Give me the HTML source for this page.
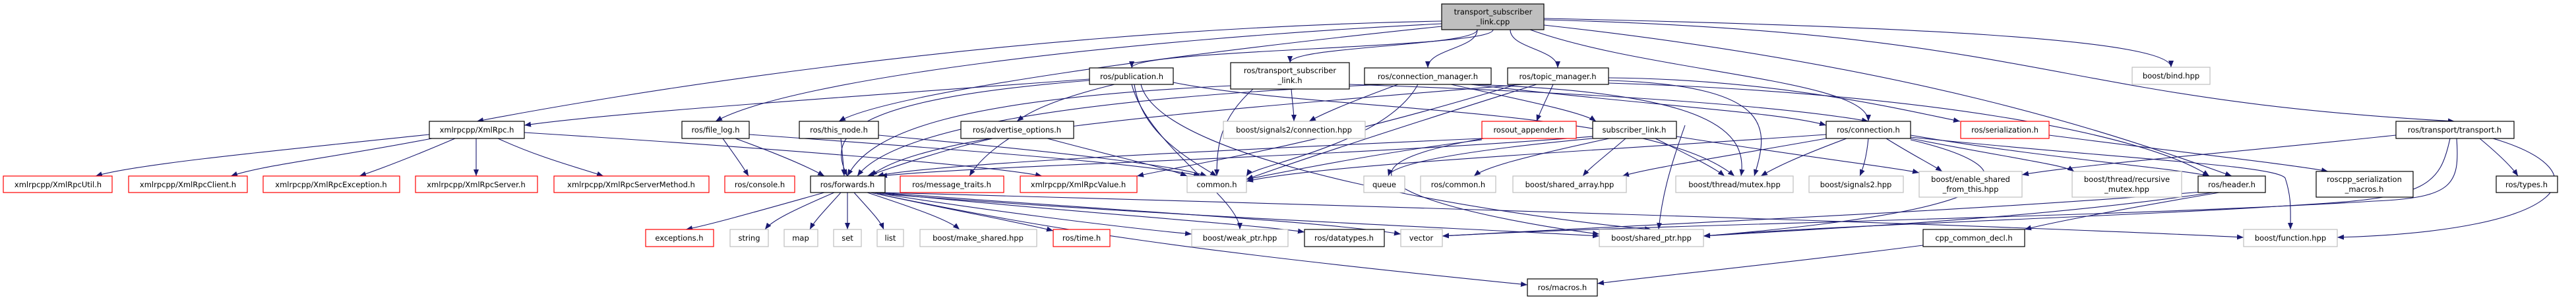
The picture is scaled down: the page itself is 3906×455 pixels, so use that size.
<!DOCTYPE html>
<html><head><meta charset="utf-8"><style>
html,body{margin:0;padding:0;background:#fff;}
svg{display:block;}
text{font-family:"DejaVu Sans","Liberation Sans",sans-serif;font-size:11.5px;fill:#000;text-anchor:middle;}
.b{fill:#fff;stroke:#000;stroke-width:1.2;}
.g{fill:#fff;stroke:#bfbfbf;stroke-width:1.2;}
.r{fill:#fff;stroke:#ff0000;stroke-width:1.2;}
.m{fill:#bfbfbf;stroke:#000;stroke-width:1.2;}
path.e{fill:none;stroke:#191970;stroke-width:1.1;marker-end:url(#a);}
</style></head><body>
<svg width="3906" height="455" viewBox="0 0 3906 455" xmlns="http://www.w3.org/2000/svg">
<defs><marker id="a" markerUnits="userSpaceOnUse" markerWidth="11" markerHeight="8" refX="10" refY="4" orient="auto"><path d="M0,0 L10,4 L0,8 z" fill="#191970"/></marker></defs>
<g>
<!-- main -->
<path class="e" d="M2264,45 C2264,74 1716,74 1716,103"/>
<path class="e" d="M2240,45 C2240,70 1956,70 1956,95"/>
<path class="e" d="M2240,45 C2240,74 2165,74 2165,103"/>
<path class="e" d="M2290,45 C2290,74 2362,74 2362,103"/>
<path class="e" d="M2320,45 C2500,110 2833,120 2833,184"/>
<path class="e" d="M2341,28 C2900,40 3292,60 3292,102"/>
<path class="e" d="M2341,30 C3100,50 3100,150 3722,184"/>
<path class="e" d="M2186,32 C1500,45 900,150 723,184"/>
<path class="e" d="M2186,36 C1700,60 1200,120 1085,184"/>
<path class="e" d="M2186,40 C1800,80 1350,140 1272,184"/>
<path class="e" d="M2341,38 C2900,100 3200,200 3384,267"/>
<!-- publication -->
<path class="e" d="M1652,120 C1100,160 900,175 795,190"/>
<path class="e" d="M1690,128 C1600,150 1560,170 1542,184"/>
<path class="e" d="M1652,122 C1300,150 1250,200 1285,267"/>
<path class="e" d="M1720,128 C1730,200 1800,240 1845,267"/>
<path class="e" d="M1779,125 C2000,170 2500,160 2630,267"/>
<path class="e" d="M1730,128 C1760,250 2300,330 2504,348"/>
<path class="e" d="M1716,128 C1740,220 1880,300 1880,348"/>
<!-- tsl -->
<path class="e" d="M1958,135 C1960,160 1962,170 1962,184"/>
<path class="e" d="M1900,135 C1850,180 1845,220 1845,267"/>
<path class="e" d="M1867,130 C1450,150 1320,200 1285,267"/>
<path class="e" d="M2046,128 C2400,140 2700,160 2833,184"/>
<!-- conn_mgr -->
<path class="e" d="M2120,128 C2060,150 2010,170 1985,184"/>
<path class="e" d="M2100,128 C1600,150 1350,200 1300,267"/>
<path class="e" d="M2150,128 C2100,220 1900,250 1890,267"/>
<path class="e" d="M2200,128 C2300,150 2400,170 2420,184"/>
<path class="e" d="M2230,128 C2500,160 2700,170 2769,190"/>
<path class="e" d="M2230,128 C2600,140 2650,200 2640,267"/>
<!-- topic_mgr -->
<path class="e" d="M2355,128 C2345,150 2335,170 2330,184"/>
<path class="e" d="M2310,128 C1800,170 1400,200 1320,267"/>
<path class="e" d="M2330,128 C2100,200 1950,250 1890,272"/>
<path class="e" d="M2439,118 C2700,120 2900,170 2972,184"/>
<path class="e" d="M2439,122 C2700,130 2680,200 2660,267"/>
<path class="e" d="M2300,128 C2000,220 1800,250 1724,267"/>
<path class="e" d="M2439,126 C2900,140 3250,200 3350,267"/>
<!-- XmlRpc.h -->
<path class="e" d="M651,204 C400,230 200,250 145,267"/>
<path class="e" d="M655,210 C500,240 400,250 350,267"/>
<path class="e" d="M690,210 C620,240 580,255 545,267"/>
<path class="e" d="M722,210 C722,240 722,250 722,267"/>
<path class="e" d="M755,210 C820,240 880,255 915,267"/>
<path class="e" d="M795,201 C1100,220 1500,250 1580,267"/>
<!-- file_log -->
<path class="e" d="M1096,210 C1110,230 1125,250 1135,267"/>
<path class="e" d="M1115,210 C1170,230 1220,250 1250,267"/>
<path class="e" d="M1136,204 C1500,230 1750,250 1820,267"/>
<!-- this_node -->
<path class="e" d="M1275,210 C1277,230 1279,250 1280,267"/>
<path class="e" d="M1332,205 C1600,230 1780,250 1830,267"/>
<!-- advertise -->
<path class="e" d="M1505,210 C1420,230 1350,255 1315,267"/>
<path class="e" d="M1530,210 C1500,230 1480,250 1470,267"/>
<path class="e" d="M1588,210 C1700,240 1770,255 1800,267"/>
<!-- rosout -->
<path class="e" d="M2247,210 C1800,230 1400,250 1330,267"/>
<path class="e" d="M2247,212 C2100,230 1950,260 1890,272"/>
<path class="e" d="M2250,210 C1900,270 2300,340 2425,355"/>
<!-- sublink -->
<path class="e" d="M2415,210 C2200,230 2110,250 2105,267"/>
<path class="e" d="M2440,210 C2300,240 2250,255 2235,267"/>
<path class="e" d="M2465,210 C2430,240 2410,255 2400,267"/>
<path class="e" d="M2510,210 C2570,240 2600,255 2615,267"/>
<path class="e" d="M2542,207 C2750,240 2880,255 2910,262"/>
<path class="e" d="M2415,207 C2000,240 1500,250 1335,267"/>
<path class="e" d="M2555,190 C2530,260 2520,300 2515,348"/>
<!-- connection -->
<path class="e" d="M2769,204 C2400,230 2000,250 1890,275"/>
<path class="e" d="M2769,210 C2600,240 2500,255 2460,267"/>
<path class="e" d="M2800,210 C2720,240 2690,255 2670,267"/>
<path class="e" d="M2833,210 C2830,240 2825,255 2820,267"/>
<path class="e" d="M2860,210 C2900,235 2930,250 2945,260"/>
<path class="e" d="M2897,210 C3050,240 3130,250 3145,260"/>
<path class="e" d="M2897,205 C3100,240 3300,255 3350,267"/>
<path class="e" d="M2897,208 C3200,240 3450,250 3465,270 C3475,300 3473,320 3473,348"/>
<path class="e" d="M2897,212 C3100,260 3050,320 2583,358"/>
<!-- serialization -->
<path class="e" d="M3107,205 C3300,230 3480,250 3530,260"/>
<!-- transport -->
<path class="e" d="M3633,205 C3400,230 3150,250 3066,265"/>
<path class="e" d="M3760,210 C3790,235 3810,255 3818,267"/>
<path class="e" d="M3780,210 C3950,260 3900,350 3544,360"/>
<path class="e" d="M3715,210 C3700,280 3680,300 3500,310 C3200,330 2800,340 2583,358"/>
<path class="e" d="M3725,210 C3730,280 3720,300 3600,305 C3200,330 2500,340 2187,358"/>
<!-- header -->
<path class="e" d="M3365,292 C3200,320 3100,340 3070,348"/>
<path class="e" d="M3355,292 C3100,330 2800,345 2583,358"/>
<path class="e" d="M3350,290 C3000,320 2500,340 2187,358"/>
<!-- forwards -->
<path class="e" d="M1250,292 C1150,320 1080,340 1040,348"/>
<path class="e" d="M1265,292 C1200,320 1170,335 1160,348"/>
<path class="e" d="M1275,292 C1250,320 1235,335 1228,348"/>
<path class="e" d="M1285,292 C1285,320 1285,335 1285,348"/>
<path class="e" d="M1295,292 C1320,320 1335,335 1340,348"/>
<path class="e" d="M1315,292 C1400,320 1440,335 1455,348"/>
<path class="e" d="M1320,292 C1450,320 1560,340 1597,350"/>
<path class="e" d="M1325,292 C1500,320 1700,345 1807,355"/>
<path class="e" d="M1330,292 C1600,320 1900,340 1978,352"/>
<path class="e" d="M1335,292 C1700,320 2000,335 2124,355"/>
<path class="e" d="M1335,294 C1800,330 2200,345 2425,358"/>
<path class="e" d="M1338,292 C2000,310 3000,340 3402,360"/>
<path class="e" d="M1330,294 C1600,350 1800,380 2316,432"/>
<!-- cpp_common -->
<path class="e" d="M2916,372 C2700,400 2500,420 2422,430"/>
</g>
<g>
<rect class="m" x="2186" y="6" width="155" height="39"/><text x="2264" y="22">transport_subscriber</text><text x="2264" y="37">_link.cpp</text>
<rect class="b" x="1652" y="103" width="127" height="25"/><text x="1716" y="120">ros/publication.h</text>
<rect class="b" x="1866" y="95" width="180" height="40"/><text x="1956" y="111">ros/transport_subscriber</text><text x="1956" y="126">_link.h</text>
<rect class="b" x="2069" y="103" width="192" height="25"/><text x="2165" y="120">ros/connection_manager.h</text>
<rect class="b" x="2286" y="103" width="153" height="25"/><text x="2362" y="120">ros/topic_manager.h</text>
<rect class="g" x="3233" y="102" width="118" height="26"/><text x="3292" y="119">boost/bind.hpp</text>

<rect class="b" x="651" y="184" width="144" height="26"/><text x="723" y="201">xmlrpcpp/XmlRpc.h</text>
<rect class="b" x="1034" y="184" width="102" height="26"/><text x="1085" y="201">ros/file_log.h</text>
<rect class="b" x="1212" y="184" width="120" height="26"/><text x="1272" y="201">ros/this_node.h</text>
<rect class="b" x="1457" y="184" width="171" height="26"/><text x="1542" y="201">ros/advertise_options.h</text>
<rect class="g" x="1855" y="184" width="215" height="26"/><text x="1962" y="201">boost/signals2/connection.hpp</text>
<rect class="r" x="2247" y="184" width="143" height="26"/><text x="2318" y="201">rosout_appender.h</text>
<rect class="b" x="2415" y="184" width="127" height="26"/><text x="2478" y="201">subscriber_link.h</text>
<rect class="b" x="2769" y="184" width="128" height="26"/><text x="2833" y="201">ros/connection.h</text>
<rect class="r" x="2973" y="184" width="134" height="26"/><text x="3040" y="201">ros/serialization.h</text>
<rect class="b" x="3633" y="184" width="179" height="26"/><text x="3722" y="201">ros/transport/transport.h</text>

<rect class="r" x="5" y="267" width="165" height="25"/><text x="88" y="284">xmlrpcpp/XmlRpcUtil.h</text>
<rect class="r" x="195" y="267" width="180" height="25"/><text x="285" y="284">xmlrpcpp/XmlRpcClient.h</text>
<rect class="r" x="399" y="267" width="207" height="25"/><text x="502" y="284">xmlrpcpp/XmlRpcException.h</text>
<rect class="r" x="630" y="267" width="185" height="25"/><text x="722" y="284">xmlrpcpp/XmlRpcServer.h</text>
<rect class="r" x="840" y="267" width="235" height="25"/><text x="957" y="284">xmlrpcpp/XmlRpcServerMethod.h</text>
<rect class="r" x="1099" y="267" width="106" height="25"/><text x="1152" y="284">ros/console.h</text>
<rect class="b" x="1229" y="267" width="113" height="25"/><text x="1285" y="284">ros/forwards.h</text>
<rect class="r" x="1365" y="267" width="157" height="25"/><text x="1443" y="284">ros/message_traits.h</text>
<rect class="r" x="1547" y="267" width="177" height="25"/><text x="1635" y="284">xmlrpcpp/XmlRpcValue.h</text>
<rect class="g" x="1800" y="267" width="90" height="25"/><text x="1845" y="284">common.h</text>
<rect class="g" x="2068" y="267" width="62" height="25"/><text x="2099" y="284">queue</text>
<rect class="g" x="2154" y="267" width="114" height="25"/><text x="2211" y="284">ros/common.h</text>
<rect class="g" x="2294" y="267" width="172" height="25"/><text x="2380" y="284">boost/shared_array.hpp</text>
<rect class="g" x="2541" y="267" width="178" height="25"/><text x="2630" y="284">boost/thread/mutex.hpp</text>
<rect class="g" x="2743" y="267" width="143" height="25"/><text x="2814" y="284">boost/signals2.hpp</text>
<rect class="g" x="2910" y="260" width="156" height="39"/><text x="2988" y="276">boost/enable_shared</text><text x="2988" y="291">_from_this.hpp</text>
<rect class="g" x="3142" y="260" width="166" height="39"/><text x="3225" y="276">boost/thread/recursive</text><text x="3225" y="291">_mutex.hpp</text>
<rect class="b" x="3333" y="267" width="102" height="25"/><text x="3384" y="284">ros/header.h</text>
<rect class="b" x="3512" y="260" width="147" height="39"/><text x="3585" y="276">roscpp_serialization</text><text x="3585" y="291">_macros.h</text>
<rect class="b" x="3785" y="267" width="93" height="25"/><text x="3831" y="284">ros/types.h</text>

<rect class="r" x="979" y="348" width="103" height="26"/><text x="1030" y="365">exceptions.h</text>
<rect class="g" x="1107" y="348" width="58" height="26"/><text x="1136" y="365">string</text>
<rect class="g" x="1189" y="348" width="51" height="26"/><text x="1214" y="365">map</text>
<rect class="g" x="1264" y="348" width="42" height="26"/><text x="1285" y="365">set</text>
<rect class="g" x="1330" y="348" width="40" height="26"/><text x="1350" y="365">list</text>
<rect class="g" x="1395" y="348" width="177" height="26"/><text x="1483" y="365">boost/make_shared.hpp</text>
<rect class="r" x="1597" y="348" width="86" height="26"/><text x="1640" y="365">ros/time.h</text>
<rect class="g" x="1807" y="348" width="146" height="26"/><text x="1880" y="365">boost/weak_ptr.hpp</text>
<rect class="b" x="1978" y="348" width="121" height="26"/><text x="2038" y="365">ros/datatypes.h</text>
<rect class="g" x="2124" y="348" width="63" height="26"/><text x="2155" y="365">vector</text>
<rect class="g" x="2425" y="348" width="158" height="26"/><text x="2504" y="365">boost/shared_ptr.hpp</text>
<rect class="b" x="2916" y="348" width="154" height="26"/><text x="2993" y="365">cpp_common_decl.h</text>
<rect class="g" x="3402" y="348" width="142" height="26"/><text x="3473" y="365">boost/function.hpp</text>
<rect class="b" x="2316" y="423" width="106" height="26"/><text x="2369" y="440">ros/macros.h</text>
</g>
</svg>
</body></html>
